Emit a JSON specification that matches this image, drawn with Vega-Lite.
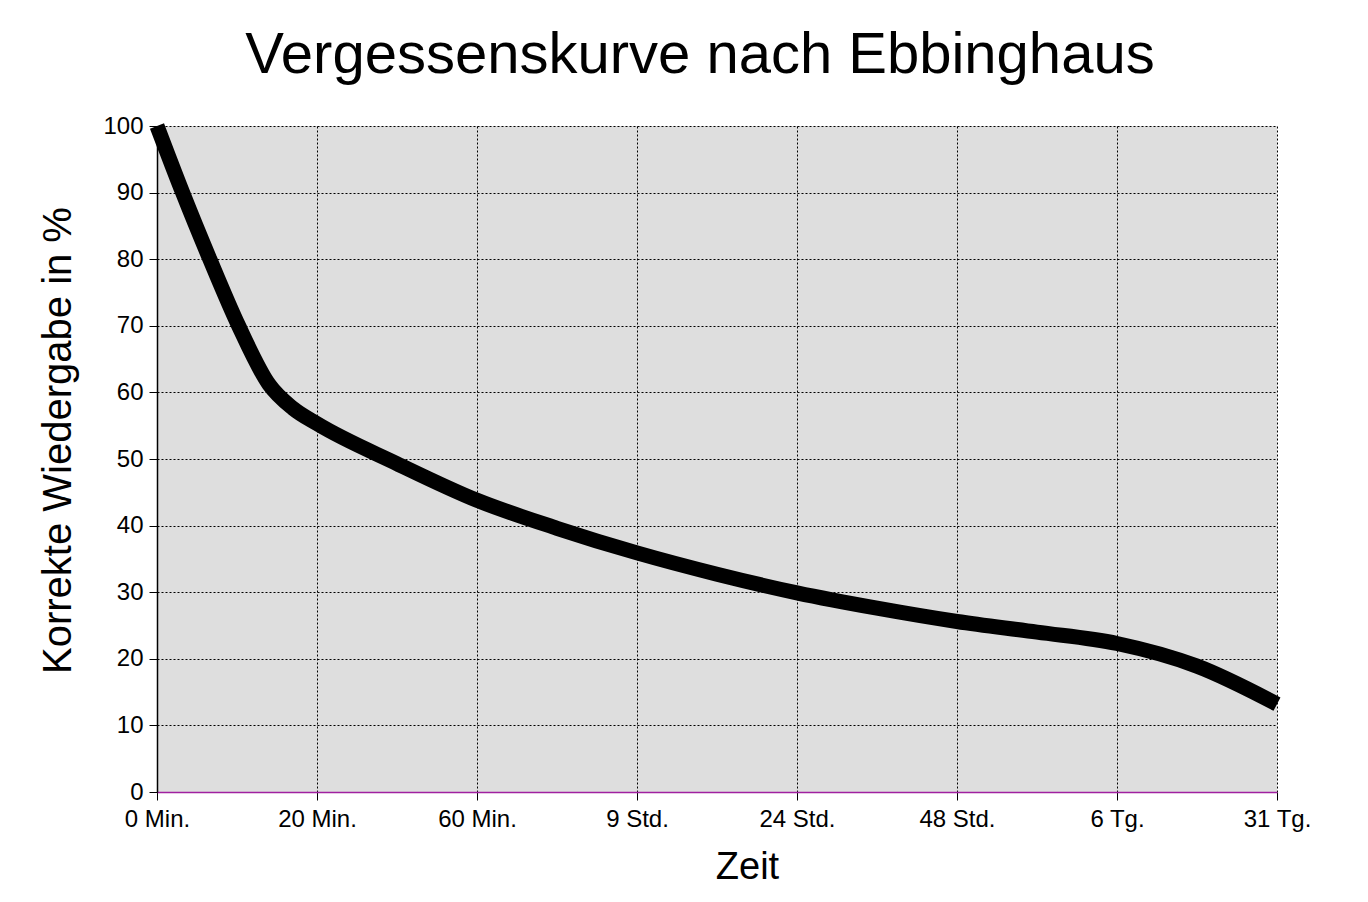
{
  "$schema": "https://vega.github.io/schema/vega-lite/v6.json",
  "autosize": "none",
  "width": 1120,
  "height": 666,
  "padding": {"left": 157, "top": 126, "right": 91, "bottom": 110},
  "background": "white",
  "title": {
    "text": "Vergessenskurve nach Ebbinghaus",
    "font": "Liberation Sans",
    "fontSize": 58,
    "fontWeight": "normal",
    "color": "black",
    "anchor": "middle",
    "dx": -17,
    "offset": 40,
    "dy": 29
  },
  "config": {
    "view": {"fill": "#dedede", "stroke": null},
    "font": "Liberation Sans"
  },
  "data": {
    "values": [
      {"t": 0, "p": 100},
      {"t": 0.16, "p": 90},
      {"t": 0.33, "p": 80},
      {"t": 0.51, "p": 70},
      {"t": 0.7, "p": 61.2},
      {"t": 0.85, "p": 57.6},
      {"t": 1.0, "p": 55.3},
      {"t": 1.5, "p": 49.3},
      {"t": 2, "p": 43.8},
      {"t": 2.5, "p": 39.6},
      {"t": 3, "p": 35.9},
      {"t": 3.5, "p": 32.7},
      {"t": 4, "p": 29.9},
      {"t": 4.5, "p": 27.6},
      {"t": 5, "p": 25.6},
      {"t": 5.5, "p": 24.0},
      {"t": 6, "p": 22.3},
      {"t": 6.5, "p": 18.9},
      {"t": 7, "p": 13.2}
    ]
  },
  "mark": {
    "type": "line",
    "color": "black",
    "strokeWidth": 15,
    "strokeCap": "butt",
    "interpolate": "monotone"
  },
  "encoding": {
    "x": {
      "field": "t",
      "type": "quantitative",
      "scale": {"domain": [0, 7], "nice": false, "zero": false},
      "axis": {
        "title": "Zeit",
        "values": [0, 1, 2, 3, 4, 5, 6, 7],
        "labelExpr": "['0 Min.','20 Min.','60 Min.','9 Std.','24 Std.','48 Std.','6 Tg.','31 Tg.'][datum.value]",
        "labelFont": "Liberation Sans",
        "labelFontSize": 24,
        "labelColor": "black",
        "labelPadding": 7,
        "labelFlush": false,
        "labelOverlap": false,
        "tickSize": 8,
        "tickColor": "black",
        "domainColor": "#a020a0",
        "domainWidth": 1.5,
        "grid": true,
        "gridColor": "black",
        "gridDash": [2, 2],
        "gridOpacity": 1,
        "gridWidth": 1,
        "titleFont": "Liberation Sans",
        "titleFontSize": 38,
        "titleFontWeight": "normal",
        "titleColor": "black",
        "titlePadding": 17,
        "titleX": 590
      }
    },
    "y": {
      "field": "p",
      "type": "quantitative",
      "scale": {"domain": [0, 100], "nice": false},
      "axis": {
        "title": "Korrekte Wiedergabe in %",
        "values": [0, 10, 20, 30, 40, 50, 60, 70, 80, 90, 100],
        "labelFont": "Liberation Sans",
        "labelFontSize": 24,
        "labelColor": "black",
        "labelPadding": 6,
        "labelFlush": false,
        "tickSize": 8,
        "tickColor": "black",
        "domainColor": "black",
        "domainWidth": 1.5,
        "grid": true,
        "gridColor": "black",
        "gridDash": [2, 2],
        "gridOpacity": 1,
        "gridWidth": 1,
        "titleFont": "Liberation Sans",
        "titleFontSize": 40,
        "titleFontWeight": "normal",
        "titleColor": "black",
        "titlePadding": 24,
        "titleY": 314
      }
    }
  }
}
